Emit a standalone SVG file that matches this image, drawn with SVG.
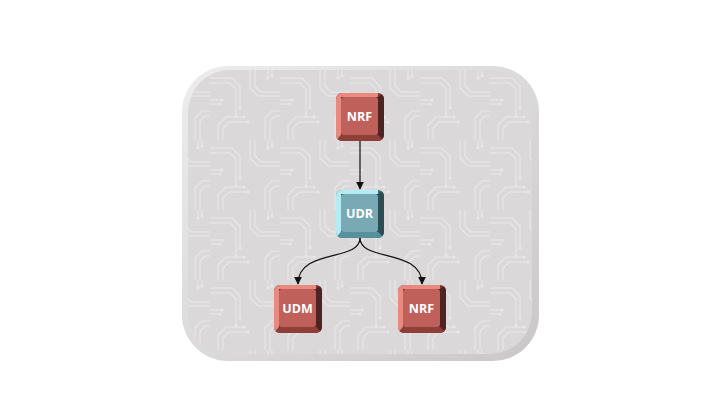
<svg xmlns="http://www.w3.org/2000/svg" width="720" height="405" viewBox="0 0 720 405">
<style>
.lbl{font-family:"Open Sans","Liberation Sans",sans-serif;font-weight:bold;font-size:12.5px;fill:#ffffff;text-anchor:middle}
.edge{fill:none;stroke:#111;stroke-width:1.2}
.tr{fill:none;stroke:#e9e7e8;stroke-width:1.1}
.dot{fill:#e9e7e8}
</style>
<defs>
<marker id="ah" viewBox="0 0 10 10" refX="9" refY="5" markerWidth="8" markerHeight="8" markerUnits="userSpaceOnUse" orient="auto">
<path d="M0,0 L10,5 L0,10 z" fill="#111"/>
</marker>
<clipPath id="key"><rect width="48" height="48" rx="6"/></clipPath>
<pattern id="circ" width="70" height="70" patternUnits="userSpaceOnUse">
<path class="tr" d="M0,8 H22 L30,16 V38 M0,13 H20 L26,19 V46 M40,0 V18 L48,26 H70 M45,0 V16 L51,22 H70 M8,70 V55 L16,47 H34 M13,70 V58 L19,52 H38 M55,70 V48 L62,41 H70 M60,70 V51 L65,46 H70 M0,30 H12 M0,34 H10 M58,0 V8 M62,0 V6"/>
<circle class="dot" cx="30" cy="38" r="1.5"/><circle class="dot" cx="26" cy="46" r="1.5"/>
<circle class="dot" cx="34" cy="47" r="1.5"/><circle class="dot" cx="38" cy="52" r="1.5"/>
<circle class="dot" cx="12" cy="30" r="1.5"/><circle class="dot" cx="10" cy="34" r="1.5"/>
<circle class="dot" cx="58" cy="8" r="1.5"/><circle class="dot" cx="62" cy="6" r="1.5"/>
</pattern>
<linearGradient id="bgEdge" x1="0" y1="0" x2="1" y2="1">
<stop offset="0" stop-color="#eeedee"/><stop offset="1" stop-color="#c9c7c8"/>
</linearGradient>
</defs>
<g id="background">
<rect x="182" y="66" width="357" height="295" rx="46" fill="url(#bgEdge)"/>
<rect x="188" y="70" width="344" height="284" rx="42" fill="#dad8d9"/>
<rect x="188" y="70" width="344" height="284" rx="42" fill="url(#circ)"/>
</g>
<g id="connectors">
<path class="edge" d="M360,141 V189" marker-end="url(#ah)"/>
<path class="edge" d="M360,238 C360,262 298,248 298,284" marker-end="url(#ah)"/>
<path class="edge" d="M360,238 C360,262 422,248 422,284" marker-end="url(#ah)"/>
</g>
<g id="nrf-top" transform="translate(336,93)">
<g clip-path="url(#key)">
<rect width="48" height="48" fill="#7a3431"/>
<polygon points="0,0 42,0 42,4 5,4 5,42 0,48" fill="#e98a80"/>
<polygon points="5,4 42,4 48,0 48,48 42,42" fill="#4e2321"/>
<polygon points="5,42 42,42 48,48 0,48" fill="#8f3f3a"/>
</g>
<rect x="5" y="4" width="37" height="38" rx="3" fill="#c0605a"/>
<text class="lbl" x="23.5" y="27.5">NRF</text>
</g>
<g id="udr" transform="translate(336,190)">
<g clip-path="url(#key)">
<rect width="48" height="48" fill="#3f6a73"/>
<polygon points="0,0 42,0 42,4 5,4 5,42 0,48" fill="#b4ecf3"/>
<polygon points="5,4 42,4 48,0 48,48 42,42" fill="#2c4d54"/>
<polygon points="5,42 42,42 48,48 0,48" fill="#55909b"/>
</g>
<rect x="5" y="4" width="37" height="38" rx="3" fill="#78a9b4"/>
<text class="lbl" x="23.5" y="27.5">UDR</text>
</g>
<g id="udm" transform="translate(274,285)">
<g clip-path="url(#key)">
<rect width="48" height="48" fill="#7a3431"/>
<polygon points="0,0 42,0 42,4 5,4 5,42 0,48" fill="#e98a80"/>
<polygon points="5,4 42,4 48,0 48,48 42,42" fill="#4e2321"/>
<polygon points="5,42 42,42 48,48 0,48" fill="#8f3f3a"/>
</g>
<rect x="5" y="4" width="37" height="38" rx="3" fill="#c0605a"/>
<text class="lbl" x="23.5" y="27.5">UDM</text>
</g>
<g id="nrf-bottom" transform="translate(398,285)">
<g clip-path="url(#key)">
<rect width="48" height="48" fill="#7a3431"/>
<polygon points="0,0 42,0 42,4 5,4 5,42 0,48" fill="#e98a80"/>
<polygon points="5,4 42,4 48,0 48,48 42,42" fill="#4e2321"/>
<polygon points="5,42 42,42 48,48 0,48" fill="#8f3f3a"/>
</g>
<rect x="5" y="4" width="37" height="38" rx="3" fill="#c0605a"/>
<text class="lbl" x="23.5" y="27.5">NRF</text>
</g>
</svg>
